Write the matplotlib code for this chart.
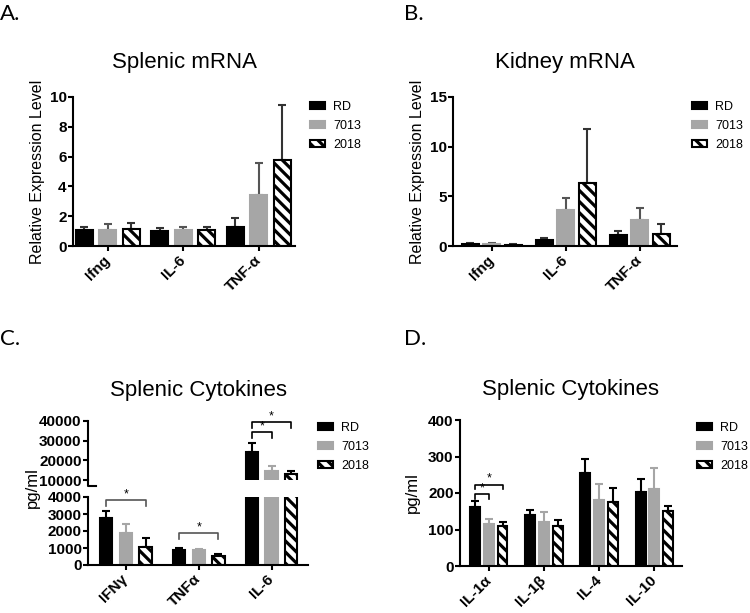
import numpy as np
import matplotlib
matplotlib.use("Agg")
import matplotlib.pyplot as plt

plt.rcParams['font.family'] = ['Liberation Sans', 'DejaVu Sans']
plt.rcParams['hatch.linewidth'] = 2.3

groups = ["RD", "7013", "2018"]

# A. Splenic mRNA
a_cats = ["Ifng", "IL-6", "TNF-α"]
a_mean = {"RD": [1.05, 1.0, 1.3], "7013": [1.1, 1.05, 3.45], "2018": [1.15, 1.05, 5.75]}
a_top = {"RD": [1.3, 1.2, 1.9], "7013": [1.45, 1.3, 5.6], "2018": [1.55, 1.3, 9.45]}

# B. Kidney mRNA
b_cats = ["Ifng", "IL-6", "TNF-α"]
b_mean = {"RD": [0.2, 0.6, 1.1], "7013": [0.2, 3.6, 2.65], "2018": [0.15, 6.35, 1.25]}
b_top = {"RD": [0.35, 0.85, 1.55], "7013": [0.3, 4.85, 3.85], "2018": [0.2, 11.8, 2.2]}

# C. Splenic cytokines (pg/ml)
c_cats = ["IFNγ", "TNFα", "IL-6"]
c_mean = {"RD": [2750, 900, 24400], "7013": [1880, 880, 14700], "2018": [1060, 540, 12900]}
c_top = {"RD": [3150, 980, 28800], "7013": [2420, 920, 17000], "2018": [1580, 620, 14600]}

# D. Splenic cytokines (pg/ml)
d_cats = ["IL-1α", "IL-1β", "IL-4", "IL-10"]
d_mean = {"RD": [161, 140, 256, 204], "7013": [116, 121, 181, 212], "2018": [110, 110, 175, 152]}
d_top = {"RD": [177, 154, 294, 237], "7013": [130, 147, 226, 268], "2018": [121, 127, 213, 165]}

W, H = 750, 613
fig = plt.figure(figsize=(W / 100, H / 100), dpi=100)

GRAY = "#a6a6a6"


def px_axes(l, r, t, b):
    return fig.add_axes([l / W, 1 - b / H, (r - l) / W, (b - t) / H])


def style_axes(ax, bottom=True):
    for s in ["top", "right"]:
        ax.spines[s].set_visible(False)
    ax.spines["left"].set_linewidth(1.5)
    ax.spines["bottom"].set_linewidth(1.5)
    ax.tick_params(width=1.5, length=3.6, labelsize=11, pad=1)
    ax.tick_params(axis="x", pad=5)
    for lab in ax.get_yticklabels():
        lab.set_fontweight("bold")
    if not bottom:
        ax.spines["bottom"].set_visible(False)
        ax.tick_params(axis="x", bottom=False, labelbottom=False)


def draw_bars(ax, cats, mean, top, offset, width, ecol, xlim, labels=True):
    x = np.arange(len(cats))
    styles = {
        "RD": dict(color="black", edgecolor="black"),
        "7013": dict(color=GRAY, edgecolor=GRAY),
        "2018": dict(color="white", edgecolor="black", hatch="\\\\\\"),
    }
    for i, g in enumerate(groups):
        xs = x + (i - 1) * offset
        m = np.array(mean[g], dtype=float)
        t = np.array(top[g], dtype=float)
        ax.bar(xs, m, width, linewidth=1.5, label=g, zorder=2, **styles[g])
        ax.errorbar(xs, m, yerr=[np.zeros_like(m), t - m], fmt="none",
                    ecolor=ecol[g], elinewidth=1.5, capsize=3, capthick=1.5, zorder=1)
    ax.set_xticks(x)
    if labels:
        ax.set_xticklabels(cats, rotation=45, ha="right", va="center",
                           rotation_mode="anchor", fontweight="bold", fontsize=11.5)
    ax.set_xlim(*xlim)


def legend(ax, x, y):
    ax.legend(loc="upper left", bbox_to_anchor=(x / W, 1 - y / H),
              bbox_transform=fig.transFigure, frameon=False,
              fontsize=9, handlelength=1.2, handleheight=0.56,
              labelspacing=0.56, borderaxespad=0, borderpad=0, handletextpad=0.64)


def bracket(ax, x1, x2, y, drop, color="black"):
    ax.plot([x1, x1, x2, x2], [y - drop, y, y, y - drop], color=color, lw=1.2,
            clip_on=False)
    ax.text((x1 + x2) / 2, y, "*", ha="center", va="bottom", fontsize=9)


dark = {"RD": "#333333", "7013": "#555555", "2018": "#333333"}
light = {"RD": "black", "7013": GRAY, "2018": "black"}

# ---- A ----
ax = px_axes(73, 295, 97, 246)
draw_bars(ax, a_cats, a_mean, a_top, 0.31, 0.225, dark, (-0.46, 2.48))
ax.set_ylim(0, 10)
ax.set_yticks(range(0, 11, 2))
style_axes(ax)
ax.set_ylabel("Relative Expression Level", fontsize=11.5)
ax.yaxis.set_label_coords(-0.126, 0.5)
ax.set_title("Splenic mRNA", fontsize=16, pad=21)
legend(ax, 310, 101)

# ---- B ----
ax = px_axes(453, 677, 97, 246)
draw_bars(ax, b_cats, b_mean, b_top, 0.29, 0.23, dark, (-0.52, 2.5))
ax.set_ylim(0, 15)
ax.set_yticks([0, 5, 10, 15])
style_axes(ax)
ax.set_ylabel("Relative Expression Level", fontsize=11.5)
ax.yaxis.set_label_coords(-0.125, 0.5)
ax.set_title("Kidney mRNA", fontsize=16, pad=21)
legend(ax, 692, 101)

# ---- C (broken axis) ----
ax_top = px_axes(88, 308, 421, 480)
ax_bot = px_axes(88, 308, 497, 565)
draw_bars(ax_top, c_cats, c_mean, c_top, 0.27, 0.17, light, (-0.52, 2.5), labels=False)
draw_bars(ax_bot, c_cats, c_mean, c_top, 0.27, 0.17, light, (-0.52, 2.5))
ax_top.set_ylim(10000, 40000)
ax_top.set_yticks([10000, 20000, 30000, 40000])
ax_bot.set_ylim(0, 4000)
ax_bot.set_yticks(range(0, 4001, 1000))
style_axes(ax_top, bottom=False)
style_axes(ax_bot)
# axis break foot
ax_top.plot([0, 0, 0.035], [0, -0.11, -0.11], transform=ax_top.transAxes,
            color="black", lw=1.5, clip_on=False)
ax_top.set_title("Splenic Cytokines", fontsize=16, pad=18)
fig.text(32 / W, 1 - 488 / H, "pg/ml", rotation=90, ha="center", va="center", fontsize=12)
legend(ax_top, 318, 422)
bracket(ax_bot, -0.27, 0.27, 3800, 300, color="#555555")
bracket(ax_bot, 0.73, 1.27, 1860, 350, color="#555555")
bracket(ax_top, 1.73, 2.0, 34400, 3000)
bracket(ax_top, 1.73, 2.27, 39300, 3000)

# ---- D ----
ax = px_axes(460, 682, 420, 566)
draw_bars(ax, d_cats, d_mean, d_top, 0.25, 0.18, light, (-0.52, 3.5))
ax.set_ylim(0, 400)
ax.set_yticks(range(0, 401, 100))
style_axes(ax)
ax.set_ylabel("pg/ml", fontsize=12)
ax.yaxis.set_label_coords(-0.18, 0.5)
ax.set_title("Splenic Cytokines", fontsize=16, pad=18)
legend(ax, 697, 422)
bracket(ax, -0.25, 0.0, 196, 12)
bracket(ax, -0.25, 0.25, 223, 12)

# panel letters
for lab, x, y in [("A.", 0, 14), ("B.", 404, 14), ("C.", 0, 339), ("D.", 404, 339)]:
    fig.text(x / W, 1 - y / H, lab, fontsize=16, ha="left", va="center",
             family=["Lato", "DejaVu Sans"])

fig.savefig("out.png", dpi=100)
